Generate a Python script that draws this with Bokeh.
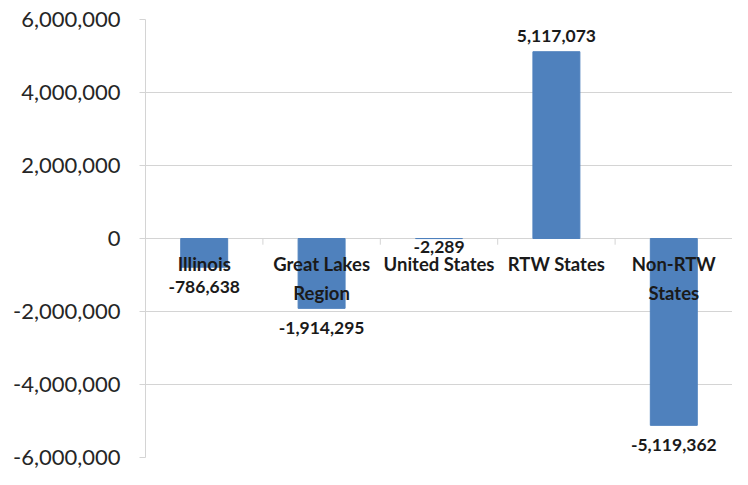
from bokeh.plotting import figure
from bokeh.models import FactorRange, Range1d, FixedTicker, NumeralTickFormatter, ColumnDataSource
from bokeh.core.properties import value
from bokeh.embed import file_html
from bokeh.resources import INLINE

# ---- data ----
categories = ["Illinois", "Great Lakes Region", "United States", "RTW States", "Non-RTW States"]
category_labels = ["Illinois", "Great Lakes\nRegion", "United States", "RTW States", "Non-RTW\nStates"]
values = [-786638, -1914295, -2289, 5117073, -5119362]
y_ticks = [-6000000, -4000000, -2000000, 0, 2000000, 4000000, 6000000]

# ---- styles ----
BAR = "#4F81BD"
GRID = "#d4d4d4"
FONT = "Lato"

value_labels = [f"{v:,}" for v in values]
label_dy = [(-16 if v > 0 else (8 if abs(v) < 100000 else 20)) for v in values]

src = ColumnDataSource(dict(cat=categories, val=values, lab=value_labels, dy=label_dy,
                            clab=category_labels, zero=[0] * len(values)))

p = figure(width=732, height=469, x_range=FactorRange(*categories),
           y_range=Range1d(-6000000, 6000000), output_backend="svg",
           toolbar_location=None, min_border_left=145, min_border_right=0,
           min_border_top=19, min_border_bottom=12)
p.outline_line_color = None
p.background_fill_color = "white"
p.border_fill_color = "white"

p.xaxis.visible = False
p.xgrid.visible = False

ax = p.yaxis[0]
ax.ticker = FixedTicker(ticks=y_ticks)
ax.formatter = NumeralTickFormatter(format="0,0")
ax.axis_line_color = GRID
ax.major_tick_line_color = GRID
ax.major_tick_out = 6
ax.major_tick_in = 0
ax.minor_tick_line_color = None
ax.major_label_standoff = 19
ax.major_label_text_font = FONT
ax.major_label_text_font_size = "22px"
ax.major_label_text_color = "#262626"

p.ygrid.grid_line_color = GRID
p.ygrid.ticker = FixedTicker(ticks=y_ticks)

p.vbar(x="cat", top="val", bottom=0, width=0.4, source=src, fill_color=BAR, line_color=BAR)

# category boundary tick marks on the zero line (synthetic categorical coordinates)
bounds = list(range(1, len(categories) + 1))
p.segment(x0=bounds, y0=[0] * len(bounds), x1=bounds, y1=[-170000] * len(bounds),
          line_color=GRID, line_width=1)

# category labels next to the zero line
p.text(x="cat", y="zero", text="clab", source=src, text_align="center", text_baseline="top",
       y_offset=14, text_font=value(FONT), text_font_style="bold", text_font_size="18.5px",
       text_color="#1a1a1a", text_line_height=1.36)

# data labels
p.text(x="cat", y="val", text="lab", source=src, text_align="center", text_baseline="middle",
       y_offset="dy", text_font=value(FONT), text_font_style="bold", text_font_size="17.5px",
       text_color="#1a1a1a")

open("out.html", "w").write(file_html(p, INLINE))
